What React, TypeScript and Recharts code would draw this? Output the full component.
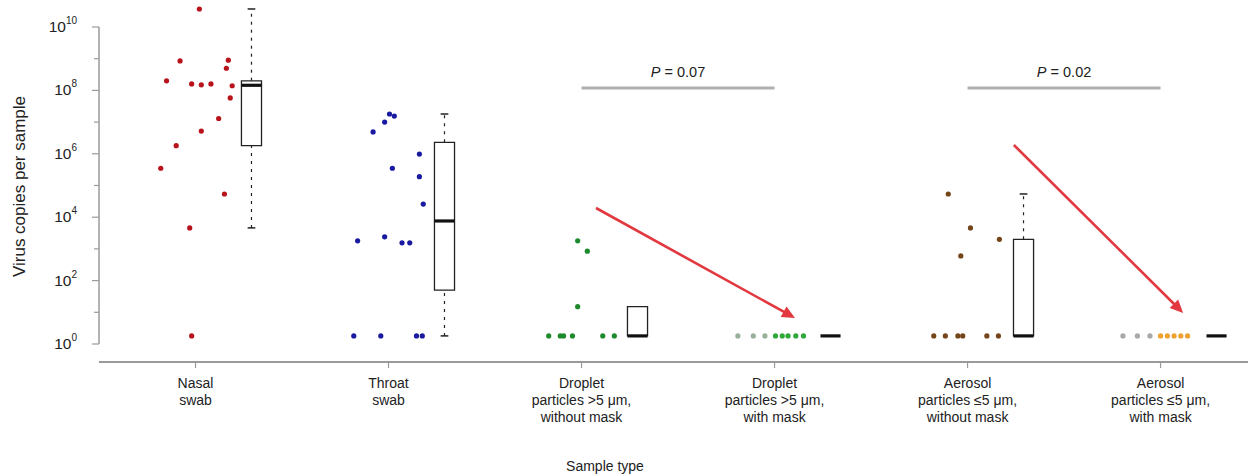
import React from 'react';
import { ComposedChart, Scatter, XAxis, YAxis, ReferenceLine, ReferenceArea } from 'recharts';

// ---------- data ----------
const categoryLines: string[][] = [
  ['Nasal', 'swab'],
  ['Throat', 'swab'],
  ['Droplet', 'particles >5 μm,', 'without mask'],
  ['Droplet', 'particles >5 μm,', 'with mask'],
  ['Aerosol', 'particles ≤5 μm,', 'without mask'],
  ['Aerosol', 'particles ≤5 μm,', 'with mask'],
];
const xTickValues = [1, 2, 3, 4, 5, 6];
const yTickValues = [1, 1e1, 1e2, 1e3, 1e4, 1e5, 1e6, 1e7, 1e8, 1e9, 1e10];

const nasalValues = [3.7e10, 8.5e8, 9e8, 5e8, 2e8, 1.6e8, 1.5e8, 1.6e8, 1.4e8, 5.8e7, 1.3e7, 5.2e6, 1.8e6, 3.5e5, 5.4e4, 4.6e3, 1.8];
const nasalJitter = [0.02, -0.08, 0.17, 0.16, -0.15, -0.02, 0.03, 0.08, 0.19, 0.18, 0.12, 0.03, -0.1, -0.18, 0.15, -0.03, -0.02];

const throatValues = [1.8e7, 1.55e7, 1e7, 4.9e6, 9.8e5, 3.5e5, 1.9e5, 2.6e4, 1.8e3, 2.4e3, 1.55e3, 1.55e3, 1.8, 1.8, 1.8, 1.8];
const throatJitter = [0.005, 0.03, -0.02, -0.08, 0.16, 0.02, 0.16, 0.18, -0.16, -0.02, 0.07, 0.11, -0.18, -0.04, 0.145, 0.175];

const dropletNoMaskValues = [1.8e3, 8.5e2, 15, 1.8, 1.8, 1.8, 1.8, 1.8, 1.8];
const dropletNoMaskJitter = [-0.02, 0.03, -0.02, -0.17, -0.11, -0.093, -0.047, 0.11, 0.17];

const dropletMaskValues = [1.8, 1.8, 1.8, 1.8, 1.8, 1.8, 1.8, 1.8];
const dropletMaskJitter = [-0.19, -0.11, -0.05, 0.005, 0.04, 0.07, 0.11, 0.15];
const dropletMaskFaded = [true, true, true, false, false, false, false, false];

const aerosolNoMaskValues = [5.4e4, 4.6e3, 2e3, 6e2, 1.8, 1.8, 1.8, 1.8, 1.8, 1.8];
const aerosolNoMaskJitter = [-0.1, 0.015, 0.165, -0.035, -0.175, -0.115, -0.05, -0.025, 0.1, 0.16];

const aerosolMaskValues = [1.8, 1.8, 1.8, 1.8, 1.8, 1.8, 1.8, 1.8];
const aerosolMaskJitter = [-0.195, -0.12, -0.055, 0, 0.035, 0.07, 0.105, 0.14];
const aerosolMaskFaded = [true, true, true, false, false, false, false, false];

const boxMin = [4.6e3, 1.8, 1.8, 1.8, 1.8, 1.8];
const boxQ1 = [1.8e6, 50, 1.8, 1.8, 1.8, 1.8];
const boxMedian = [1.45e8, 7.6e3, 1.8, 1.8, 1.8, 1.8];
const boxQ3 = [2e8, 2.3e6, 15, 1.8, 2e3, 1.8];
const boxMax = [3.7e10, 1.8e7, 15, 1.8, 5.4e4, 1.8];

const pLabels = ['P = 0.07', 'P = 0.02'];
const pPairs = [[3, 4], [5, 6]];
const pLevel = 1.2e8;

const arrowStart = [{ x: 3.075, y: 1.95e4 }, { x: 5.24, y: 1.9e6 }];
const arrowEnd = [{ x: 4.106, y: 6.6 }, { x: 6.117, y: 9.5 }];

// ---------- styles ----------
const FONT = '"Liberation Sans", Arial, Helvetica, sans-serif';
const TEXT = '#222';
const AXIS = '#9a9a9a';
const colors = ['#b8121a', '#1a1aa0', '#1d8a2c', '#2fa83a', '#744519', '#eda12e'];
const fadedColors = ['', '', '', '#98b09a', '', '#a8a8a8'];
const BOX_OFFSET = 0.29;
const BOX_HALF = 0.052;
const CAP_HALF = 0.02;

const build = (cat: number, values: number[], jitter: number[], faded?: boolean[]) =>
  values.map((v, i) => ({ x: cat + jitter[i], y: v, faded: faded ? faded[i] : false }));

const groups = [
  build(1, nasalValues, nasalJitter),
  build(2, throatValues, throatJitter),
  build(3, dropletNoMaskValues, dropletNoMaskJitter),
  build(4, dropletMaskValues, dropletMaskJitter, dropletMaskFaded),
  build(5, aerosolNoMaskValues, aerosolNoMaskJitter),
  build(6, aerosolMaskValues, aerosolMaskJitter, aerosolMaskFaded),
];

const makeDot = (gi: number) => (props: any) => {
  const { cx, cy, payload } = props;
  const fill = payload && payload.faded ? fadedColors[gi] : colors[gi];
  return <circle cx={cx} cy={cy} r={2.6} fill={fill} />;
};

const YTick = (props: any) => {
  const { x, y, payload } = props;
  const exp = Math.round(Math.log10(payload.value));
  const major = exp % 2 === 0;
  return (
    <g>
      <line x1={x - (major ? 7 : 5)} x2={x} y1={y} y2={y} stroke={AXIS} strokeWidth={1.2} />
      {major && (
        <text x={x - 22} y={y} textAnchor="end" fontFamily={FONT} fill={TEXT} fontSize={15.5}>
          <tspan dy={5}>10</tspan>
          <tspan dy={-8} fontSize={10}>{exp}</tspan>
        </text>
      )}
    </g>
  );
};

const XTick = (props: any) => {
  const { x, y, payload } = props;
  const lines = categoryLines[payload.value - 1] || [];
  return (
    <g>
      {lines.map((l, i) => (
        <text key={i} x={x} y={y + 20 + i * 17} textAnchor="middle" fontFamily={FONT} fontSize={14} fill={TEXT}>
          {l}
        </text>
      ))}
    </g>
  );
};

const bracketShape = (label: string) => (props: any) => {
  const { x1, y1, x2, y2 } = props;
  const mid = (x1 + x2) / 2;
  const parts = label.split(' ');
  return (
    <g>
      <line x1={x1} y1={y1} x2={x2} y2={y2} stroke="#b0b0b0" strokeWidth={3} />
      <text x={mid} y={y1 - 11} textAnchor="middle" fontFamily={FONT} fontSize={14.5} fill={TEXT}>
        <tspan fontStyle="italic">{parts[0]}</tspan>
        <tspan>{' ' + parts.slice(1).join(' ')}</tspan>
      </text>
    </g>
  );
};

const arrowShape = (props: any) => {
  const { x1, y1, x2, y2 } = props;
  const dx = x2 - x1;
  const dy = y2 - y1;
  const len = Math.sqrt(dx * dx + dy * dy);
  const ux = dx / len;
  const uy = dy / len;
  const head = 13;
  const hw = 6;
  const bx = x2 - ux * head;
  const by = y2 - uy * head;
  const px = -uy;
  const py = ux;
  return (
    <g>
      <line x1={x1} y1={y1} x2={bx + ux * 2} y2={by + uy * 2} stroke="#e2383f" strokeWidth={2.6} />
      <polygon
        points={`${x2},${y2} ${bx + px * hw},${by + py * hw} ${bx - px * hw},${by - py * hw}`}
        fill="#e2383f"
      />
    </g>
  );
};

export default function App() {
  const refs: React.ReactNode[] = [];
  xTickValues.forEach((cat, i) => {
    const c = cat + BOX_OFFSET;
    if (boxMax[i] > boxQ3[i]) {
      refs.push(
        <ReferenceLine key={`wu${i}`} segment={[{ x: c, y: boxQ3[i] }, { x: c, y: boxMax[i] }]} stroke="#222" strokeWidth={1.2} strokeDasharray="3 5" ifOverflow="visible" />,
        <ReferenceLine key={`cu${i}`} segment={[{ x: c - CAP_HALF, y: boxMax[i] }, { x: c + CAP_HALF, y: boxMax[i] }]} stroke="#222" strokeWidth={1.5} ifOverflow="visible" />
      );
    }
    if (boxMin[i] < boxQ1[i]) {
      refs.push(
        <ReferenceLine key={`wl${i}`} segment={[{ x: c, y: boxMin[i] }, { x: c, y: boxQ1[i] }]} stroke="#222" strokeWidth={1.2} strokeDasharray="3 5" ifOverflow="visible" />,
        <ReferenceLine key={`cl${i}`} segment={[{ x: c - CAP_HALF, y: boxMin[i] }, { x: c + CAP_HALF, y: boxMin[i] }]} stroke="#222" strokeWidth={1.5} ifOverflow="visible" />
      );
    }
    if (boxQ3[i] > boxQ1[i]) {
      refs.push(
        <ReferenceArea key={`b${i}`} x1={c - BOX_HALF} x2={c + BOX_HALF} y1={boxQ1[i]} y2={boxQ3[i]} fill="#fff" fillOpacity={1} stroke="#222" strokeWidth={1.3} ifOverflow="visible" />
      );
    }
    refs.push(
      <ReferenceLine key={`m${i}`} segment={[{ x: c - BOX_HALF, y: boxMedian[i] }, { x: c + BOX_HALF, y: boxMedian[i] }]} stroke="#111" strokeWidth={3.2} ifOverflow="visible" />
    );
  });

  return (
    <div style={{ position: 'absolute', left: 0, top: 0, width: 1248, height: 476, background: '#fff' }}>
      <ComposedChart width={1248} height={476} margin={{ top: 5, right: 0, bottom: 0, left: 0 }}>
        <XAxis
          type="number"
          dataKey="x"
          domain={[0.5, 6.453]}
          allowDataOverflow
          ticks={xTickValues}
          tick={<XTick />}
          tickSize={6}
          tickMargin={0}
          height={114}
          axisLine={{ stroke: AXIS, strokeWidth: 2 }}
          tickLine={{ stroke: AXIS, strokeWidth: 1.2 }}
          label={{
            content: (p: any) => {
              const vb = p.viewBox || { x: 99, y: 362 };
              return (
                <text x={vb.x + 506} y={vb.y + 109} textAnchor="middle" fontFamily={FONT} fontSize={14} fill={TEXT}>
                  Sample type
                </text>
              );
            },
          }}
        />
        <YAxis
          type="number"
          dataKey="y"
          scale="log"
          domain={[Math.pow(10, -0.568), Math.pow(10, 10.694)]}
          allowDataOverflow
          ticks={yTickValues}
          tick={<YTick />}
          tickSize={0}
          tickMargin={0}
          tickLine={false}
          axisLine={false}
          width={99}
          label={{
            content: (p: any) => {
              const vb = p.viewBox || { x: 0, y: 5, height: 357 };
              const cx = 21;
              const cy = vb.y + vb.height / 2 + 3;
              return (
                <text x={cx} y={cy} transform={`rotate(-90 ${cx} ${cy})`} textAnchor="middle" dominantBaseline="middle" fontFamily={FONT} fontSize={17} fill={TEXT}>
                  Virus copies per sample
                </text>
              );
            },
          }}
        />
        <ReferenceLine segment={[{ x: 0.5, y: 1 }, { x: 0.5, y: 1e10 }]} stroke={AXIS} strokeWidth={1.5} ifOverflow="visible" />
        {refs}
        {groups.map((g, gi) => (
          <Scatter key={gi} data={g} isAnimationActive={false} shape={makeDot(gi)} />
        ))}
        {pPairs.map((pair, i) => (
          <ReferenceLine key={`p${i}`} segment={[{ x: pair[0], y: pLevel }, { x: pair[1], y: pLevel }]} shape={bracketShape(pLabels[i])} ifOverflow="visible" />
        ))}
        {arrowStart.map((s, i) => (
          <ReferenceLine key={`a${i}`} segment={[s, arrowEnd[i]]} shape={arrowShape} ifOverflow="visible" />
        ))}
      </ComposedChart>
    </div>
  );
}
